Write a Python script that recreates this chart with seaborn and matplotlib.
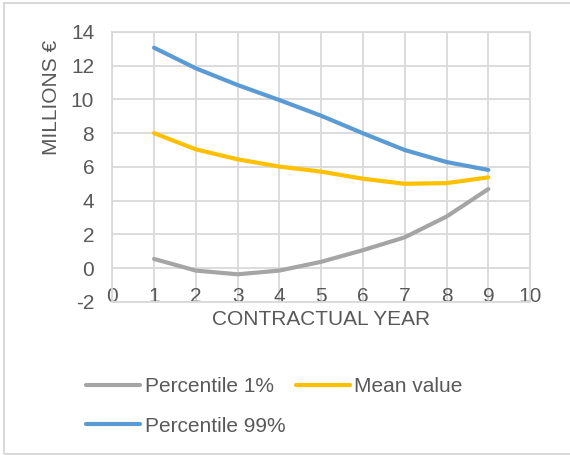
import matplotlib
matplotlib.use('Agg')
import matplotlib.pyplot as plt
from matplotlib.patches import Rectangle
import seaborn as sns
import pandas as pd

# данные с картинки
years = [1, 2, 3, 4, 5, 6, 7, 8, 9]
p1 = [0.55, -0.14, -0.36, -0.14, 0.38, 1.07, 1.83, 3.06, 4.69]
mean_value = [8.0, 7.04, 6.45, 6.02, 5.72, 5.30, 5.0, 5.04, 5.38]
p99 = [13.06, 11.84, 10.85, 9.96, 9.03, 7.99, 7.0, 6.29, 5.82]
series_names = ['Percentile 1%', 'Mean value', 'Percentile 99%']
colors = ['#A5A5A5', '#FFC000', '#5B9BD5']

text_color = '#595959'
grid_color = '#D9D9D9'
fs = 15

sns.set_theme(style='white')
plt.rcParams['font.family'] = ['Liberation Sans', 'DejaVu Sans']
plt.rcParams['axes.unicode_minus'] = False

df = pd.DataFrame({'year': years, series_names[0]: p1,
                   series_names[1]: mean_value, series_names[2]: p99})
df = df.melt(id_vars='year', var_name='series', value_name='value')

fig = plt.figure(figsize=(5.7, 4.55), dpi=100)
ax = fig.add_axes([0.197, 0.3363, 0.733, 0.5937])

sns.lineplot(data=df, x='year', y='value', hue='series', hue_order=series_names,
             palette=colors, linewidth=3.0, ax=ax, legend=False)

ax.set_xlim(0, 10)
ax.set_ylim(-2, 14)
ax.set_xticks(range(0, 11))
ax.set_yticks(range(-2, 15, 2))
ax.grid(True, color=grid_color, linewidth=1.3)
ax.set_axisbelow(True)
for sp in ax.spines.values():
    sp.set_color(grid_color)
    sp.set_linewidth(1.3)

ax.tick_params(axis='both', length=0, labelsize=fs, labelcolor=text_color)
ax.tick_params(axis='x', pad=-11)
ax.tick_params(axis='y', pad=13)

ax.set_xlabel('CONTRACTUAL YEAR', fontsize=fs, color=text_color)
ax.set_ylabel('MILLIONS €', fontsize=fs, color=text_color)
ax.xaxis.set_label_coords(0.499, -0.063)
ax.yaxis.set_label_coords(-0.145, 0.759)
ax.xaxis.label.set_va('center')
ax.yaxis.label.set_va('center')

# легенда: порядок строк как в Excel
handles = [plt.Line2D([], [], color=c, linewidth=3.0, solid_capstyle='round') for c in colors]
order = [0, 2, 1]
leg = fig.legend([handles[i] for i in order], [series_names[i] for i in order],
                 ncol=2, loc='upper left', bbox_to_anchor=(0.136, 0.19), frameon=False,
                 fontsize=fs, handlelength=2.6, handletextpad=0.22, columnspacing=0.5,
                 labelspacing=1.0, borderaxespad=0)
for t in leg.get_texts():
    t.set_color(text_color)

fig.patches.append(Rectangle((0.007, 0.003), 1.2, 0.99, transform=fig.transFigure,
                             fill=False, edgecolor=grid_color, linewidth=1.5))

plt.savefig('out.png', dpi=100)
